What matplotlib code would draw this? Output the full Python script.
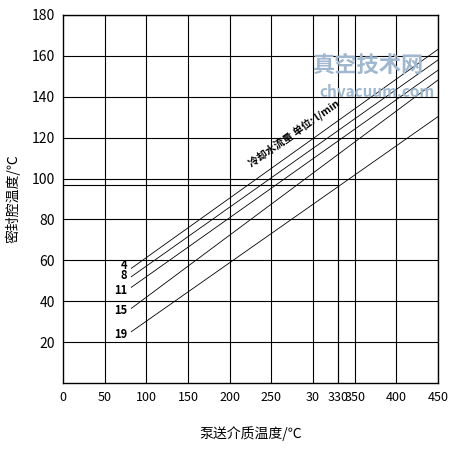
import matplotlib
matplotlib.use("Agg")
import matplotlib.pyplot as plt

plt.rcParams['font.family'] = ['Noto Sans CJK SC', 'DejaVu Sans']

flows = ["4", "8", "11", "15", "19"]
x_start = [82, 82, 82, 82, 82]
x_end = [450, 450, 450, 450, 450]
y_start = [56.1, 52.0, 46.8, 36.5, 25.1]
y_end = [163.2, 158.0, 153.0, 148.2, 130.3]
label_y = [57.5, 52.5, 45.0, 35.5, 23.5]
xticks = [0, 50, 100, 150, 200, 250, 300, 330, 350, 400, 450]
xticklabels = ["0", "50", "100", "150", "200", "250", "30", "330", "350", "400", "450"]
yticks = [20, 40, 60, 80, 100, 120, 140, 160, 180]
example_x, example_y = 330, 97

fig = plt.figure(figsize=(4.64, 4.49), dpi=100)
ax = fig.add_axes([63/464, 66/449, 375/464, 368/449])
ax.set_xlim(0, 450); ax.set_ylim(0, 180)
for x in xticks[1:]:
    ax.axvline(x, color='black', lw=0.8)
for y in yticks:
    ax.axhline(y, color='black', lw=0.8)
for i, f in enumerate(flows):
    ax.plot([x_start[i], x_end[i]], [y_start[i], y_end[i]], color='black', lw=0.6)
    ax.text(x_start[i] - 5, label_y[i], f, ha='right', va='center', fontsize=8, fontweight='bold')
ax.plot([0, example_x], [example_y, example_y], color='black', lw=0.8)
ax.plot([example_x, example_x], [0, example_y], color='black', lw=0.8)
ax.text(220, 106, "冷却水流量 单位: l/min", rotation=35, fontsize=7.5, fontweight='bold')
ax.text(300, 152, "真空技术网", fontsize=16, color='#9fb8d0', fontweight='bold', clip_on=False)
ax.text(308, 140, "chvacuum.com", fontsize=11, color='#9fb8d0', fontweight='bold', clip_on=False)
ax.set_xticks(xticks); ax.set_xticklabels(xticklabels, fontsize=9)
ax.set_yticks(yticks); ax.set_yticklabels([str(v) for v in yticks], fontsize=10)
ax.tick_params(length=0, pad=6)
for s in ax.spines.values():
    s.set_linewidth(1)
ax.set_xlabel("泵送介质温度/℃", fontsize=10, labelpad=16)
ax.set_ylabel("密封腔温度/℃", fontsize=10, labelpad=8)
fig.savefig("out.png", dpi=100)
